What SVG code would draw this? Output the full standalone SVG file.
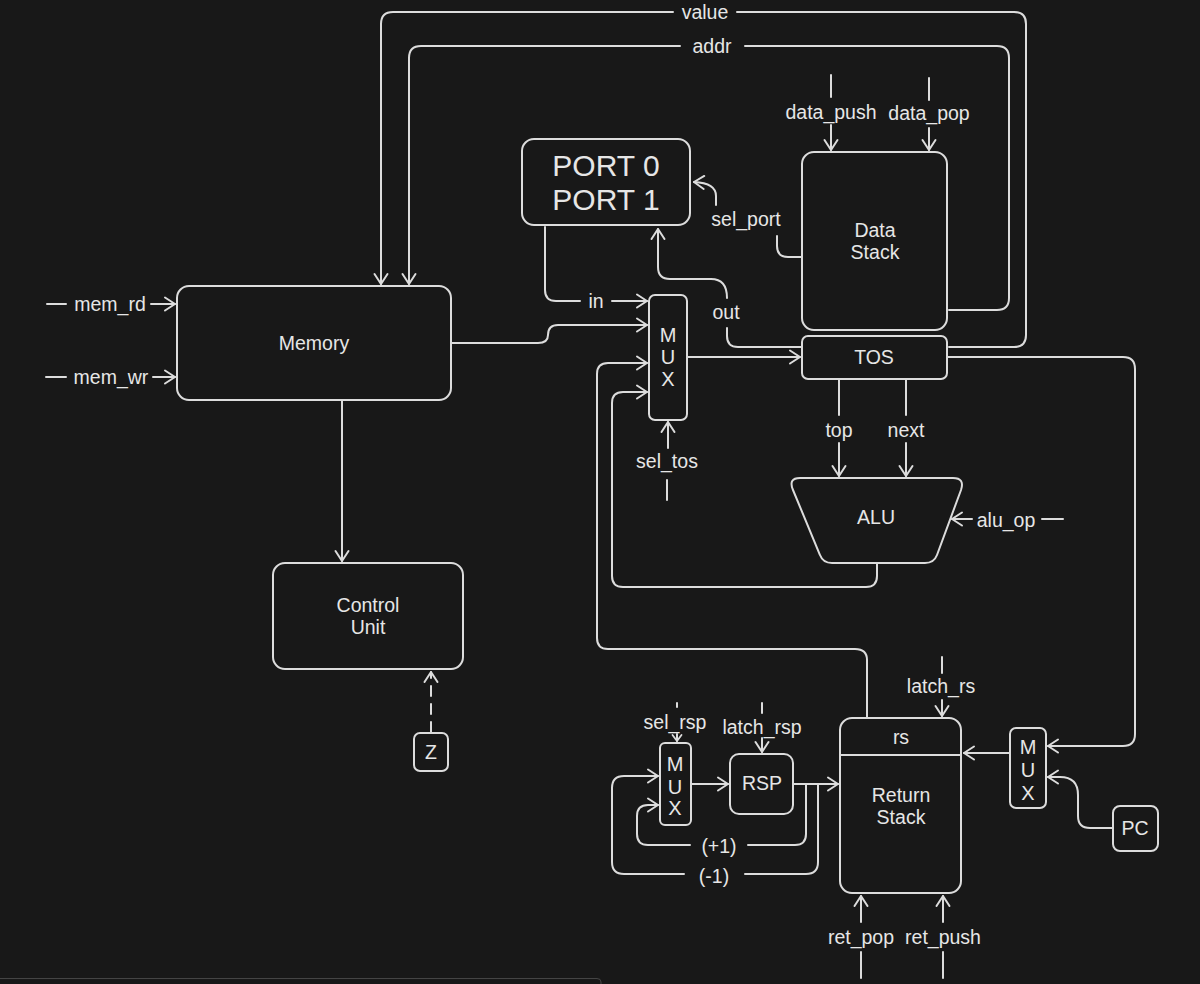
<svg xmlns="http://www.w3.org/2000/svg" width="1200" height="984" viewBox="0 0 1200 984">
<defs>
<marker id="ah" viewBox="-12 -8 14 16" markerWidth="14" markerHeight="16" refX="0" refY="0" orient="auto" markerUnits="userSpaceOnUse">
<path d="M-10,-6.5 L0,0 L-10,6.5" fill="none" stroke="#dcdcdc" stroke-width="2" stroke-linecap="round" stroke-linejoin="round"/>
</marker>
<marker id="ahs" viewBox="-8 -6 10 12" markerWidth="10" markerHeight="12" refX="0" refY="0" orient="auto" markerUnits="userSpaceOnUse">
<path d="M-6,-4.5 L0,0 L-6,4.5" fill="none" stroke="#dcdcdc" stroke-width="1.8" stroke-linecap="round" stroke-linejoin="round"/>
</marker>
<style>
.n{fill:#181818;stroke:#dcdcdc;stroke-width:2}
.c{fill:none;stroke:#dcdcdc;stroke-width:2;stroke-linecap:round;stroke-linejoin:round}
.a{marker-end:url(#ah)}
.t{font-family:"Liberation Sans",Arial,sans-serif;font-size:19.5px;fill:#e6e6e6;text-anchor:middle;dominant-baseline:central}
.big{font-size:30px}
.mx{font-size:20px}
</style>
</defs>
<rect width="1200" height="984" fill="#181818"/>
<path d="M0,978.5 H597 Q601,978.5 601,982 V984" fill="none" stroke="#444" stroke-width="1"/>

<g id="connectors">
<path class="c a" d="M673,12 H393 Q381,12 381,24 V284"/>
<path class="c" d="M737,12 H1014 Q1026,12 1026,24 V335 Q1026,347 1014,347 H949"/>
<text class="t" x="705" y="12">value</text>
<path class="c a" d="M680,46 H421 Q409,46 409,58 V284"/>
<path class="c" d="M745,46 H997 Q1009,46 1009,58 V298 Q1009,310 997,310 H949"/>
<text class="t" x="712" y="46">addr</text>

<path class="c" d="M47,304 H66"/>
<text class="t" x="110" y="304">mem_rd</text>
<path class="c a" d="M151,304 H175"/>
<path class="c" d="M46,377 H66"/>
<text class="t" x="111" y="377">mem_wr</text>
<path class="c a" d="M153,377 H175"/>

<path class="c a" d="M452,343 H538 Q548,343 548,335 Q548,325 558,325 H647"/>
<path class="c" d="M545,227 V290 Q545,301 556,301 H580"/>
<text class="t" x="596" y="301">in</text>
<path class="c a" d="M612,301 H647"/>

<path class="c" d="M802,347 H738 Q727,347 727,336 V328"/>
<text class="t" x="726" y="312">out</text>
<path class="c a" d="M727,298 Q727,279 711,279 H670 Q658,279 658,267 V229"/>

<path class="c" d="M802,257 H788 Q777,257 777,246 V236"/>
<text class="t" x="746" y="219">sel_port</text>
<path class="c a" d="M716,205 V196 Q716,183 694,182"/>

<path class="c a" d="M688,357 H800"/>
<path class="c a" d="M867,717 V660 Q867,649 855,649 H608 Q597,649 597,638 V374 Q597,363 608,363 H647"/>
<path class="c a" d="M877,564 V576 Q877,587 866,587 H623 Q612,587 612,576 V403 Q612,392 623,392 H647"/>

<path class="c" d="M667,500 V480"/>
<text class="t" x="667" y="461">sel_tos</text>
<path class="c a" d="M668,448 V422"/>

<path class="c" d="M839,380 V415"/>
<text class="t" x="839" y="430">top</text>
<path class="c a" d="M839,443 V476"/>
<path class="c" d="M906,380 V415"/>
<text class="t" x="906" y="430">next</text>
<path class="c a" d="M906,443 V476"/>
<path class="c a" d="M972,519 H952"/>
<text class="t" x="1006" y="520">alu_op</text>
<path class="c" d="M1042,519 H1063"/>

<path class="c" d="M831,75 V97"/>
<text class="t" x="831" y="112">data_push</text>
<path class="c a" d="M831,125 V150"/>
<path class="c" d="M929,78 V100"/>
<text class="t" x="929" y="113">data_pop</text>
<path class="c a" d="M929,128 V150"/>

<path class="c a" d="M342,401 V561"/>
<path class="c a" d="M431,732 V672" stroke-dasharray="10 8"/>

<path class="c a" d="M948,357 H1123 Q1135,357 1135,369 V734 Q1135,746 1123,746 H1048"/>
<path class="c a" d="M1112,828 H1090 Q1078,828 1078,816 V795 Q1078,777 1060,777 H1048"/>
<path class="c a" d="M1009,753 H964"/>
<path class="c" d="M942,657 V673"/>
<text class="t" x="941" y="686">latch_rs</text>
<path class="c a" d="M942,700 V716"/>
<path class="c" d="M861,978 V952"/>
<text class="t" x="861" y="937">ret_pop</text>
<path class="c a" d="M861,922 V896"/>
<path class="c" d="M943,978 V952"/>
<text class="t" x="943" y="937">ret_push</text>
<path class="c a" d="M943,922 V896"/>

<path class="c" d="M677,703 V707"/>
<text class="t" x="675" y="722">sel_rsp</text>
<path class="c" style="marker-end:url(#ahs)" d="M677,734 V741"/>
<path class="c" d="M762,703 V713"/>
<text class="t" x="762" y="727">latch_rsp</text>
<path class="c a" d="M762,738 V752"/>
<path class="c a" d="M692,784 H728"/>
<path class="c a" d="M794,784 H838"/>
<path class="c" d="M806,784 V834 Q806,845 795,845 H748"/>
<text class="t" x="719" y="846">(+1)</text>
<path class="c a" d="M690,845 H648 Q637,845 637,834 V816 Q637,805 648,805 H658"/>
<path class="c" d="M818,784 V862 Q818,874 806,874 H745"/>
<text class="t" x="714" y="876">(-1)</text>
<path class="c a" d="M684,874 H624 Q612,874 612,862 V788 Q612,776 624,776 H658"/>
</g>

<g id="memory">
<rect class="n" x="177" y="286" width="274" height="114" rx="12"/>
<text class="t" x="314" y="343">Memory</text>
</g>
<g id="control-unit">
<rect class="n" x="273" y="563" width="190" height="106" rx="12"/>
<text class="t" x="368" y="605">Control</text>
<text class="t" x="368" y="627">Unit</text>
</g>
<g id="z">
<rect class="n" x="414" y="733" width="34" height="38" rx="6"/>
<text class="t" x="431" y="752">Z</text>
</g>
<g id="ports">
<rect class="n" x="522" y="139" width="168" height="86" rx="12"/>
<text class="t big" x="606" y="165">PORT 0</text>
<text class="t big" x="606" y="199">PORT 1</text>
</g>
<g id="mux-tos">
<rect class="n" x="649" y="295" width="38" height="125" rx="6"/>
<text class="t mx" x="668" y="335">M</text>
<text class="t mx" x="668" y="357">U</text>
<text class="t mx" x="668" y="379">X</text>
</g>
<g id="data-stack">
<rect class="n" x="802" y="152" width="145" height="178" rx="12"/>
<text class="t" x="875" y="230">Data</text>
<text class="t" x="875" y="252">Stack</text>
</g>
<g id="tos">
<rect class="n" x="802" y="336" width="145" height="43" rx="6"/>
<text class="t" x="874" y="357">TOS</text>
</g>
<g id="alu">
<path class="n" d="M800,478 H953 Q965,478 961,490 L937,555 Q934,563 925,563 H832 Q823,563 820,555 L793,490 Q788,478 800,478 Z"/>
<text class="t" x="876" y="517">ALU</text>
</g>
<g id="return-stack">
<rect class="n" x="840" y="718" width="121" height="175" rx="12"/>
<path class="c" d="M840,755 H961"/>
<text class="t" x="901" y="737">rs</text>
<text class="t" x="901" y="795">Return</text>
<text class="t" x="901" y="817">Stack</text>
</g>
<g id="mux-rs">
<rect class="n" x="1010" y="728" width="36" height="80" rx="6"/>
<text class="t mx" x="1028" y="747">M</text>
<text class="t mx" x="1028" y="770">U</text>
<text class="t mx" x="1028" y="793">X</text>
</g>
<g id="pc">
<rect class="n" x="1113" y="806" width="45" height="45" rx="7"/>
<text class="t" x="1135" y="828">PC</text>
</g>
<g id="mux-rsp">
<rect class="n" x="660" y="743" width="31" height="82" rx="5"/>
<text class="t mx" x="675" y="764">M</text>
<text class="t mx" x="675" y="787">U</text>
<text class="t mx" x="675" y="808">X</text>
</g>
<g id="rsp">
<rect class="n" x="730" y="754" width="63" height="60" rx="9"/>
<text class="t" x="762" y="783">RSP</text>
</g>
</svg>
